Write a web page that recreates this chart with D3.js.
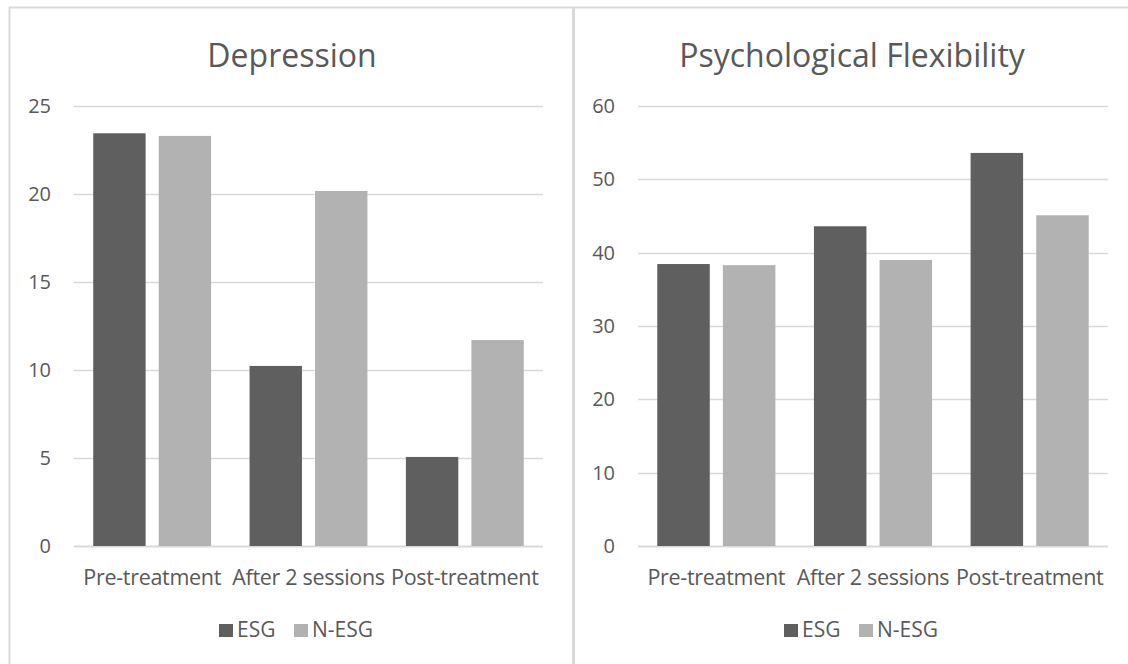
<!DOCTYPE html>
<html><head><meta charset="utf-8">
<script src="https://cdn.jsdelivr.net/npm/d3@7"></script>
<style>
html,body{margin:0;padding:0;background:#fff;}
svg{display:block;font-family:"Open Sans",sans-serif;}
</style></head>
<body>
<svg id="chart" width="1128" height="664"></svg>
<script>
const categories = ["Pre-treatment", "After 2 sessions", "Post-treatment"];
const seriesNames = ["ESG", "N-ESG"];
const seriesColors = ["#5f5f5f", "#b2b2b2"];
const depressionESG = [23.45, 10.23, 5.06];
const depressionNESG = [23.3, 20.17, 11.7];
const flexibilityESG = [38.45, 43.6, 53.6];
const flexibilityNESG = [38.3, 39.0, 45.1];
const depressionTicks = [0, 5, 10, 15, 20, 25];
const flexibilityTicks = [0, 10, 20, 30, 40, 50, 60];

const svg = d3.select("#chart");
const textColor = "#595959", gridColor = "#d9d9d9";

// panel borders
svg.append("line").attr("x1", 9.5).attr("x2", 9.5).attr("y1", 7).attr("y2", 664).attr("stroke", gridColor).attr("stroke-width", 2);
svg.append("line").attr("x1", 9).attr("x2", 1128).attr("y1", 7.5).attr("y2", 7.5).attr("stroke", gridColor).attr("stroke-width", 2);
svg.append("line").attr("x1", 573.5).attr("x2", 573.5).attr("y1", 7).attr("y2", 664).attr("stroke", gridColor).attr("stroke-width", 3);

function panel(opt) {
  const g = svg.append("g");
  const x = d3.scaleBand().domain(categories).range([opt.x0, opt.x1]).paddingInner(0).paddingOuter(0);
  const outer = x.bandwidth() * 0.123;
  const xs = d3.scaleBand().domain(seriesNames).range([outer, x.bandwidth() - outer]).paddingInner(0.2).paddingOuter(0);
  const y = d3.scaleLinear().domain([0, opt.max]).range([546, 106]);

  // gridlines
  g.selectAll("line.grid").data(opt.ticks).join("line")
    .attr("x1", opt.x0).attr("x2", opt.x1)
    .attr("y1", d => Math.round(y(d)) + 0.5).attr("y2", d => Math.round(y(d)) + 0.5)
    .attr("stroke", gridColor).attr("stroke-width", d => d === 0 ? 2 : 1.5);

  // y labels
  g.selectAll("text.ytick").data(opt.ticks).join("text")
    .attr("x", opt.x0 - 23).attr("y", d => y(d) + 7)
    .attr("text-anchor", "end").attr("fill", textColor).attr("font-size", 20)
    .text(d => d);

  // bars
  const series = [opt.s1, opt.s2];
  const cat = g.selectAll("g.cat").data(categories).join("g")
    .attr("transform", d => `translate(${x(d)},0)`);
  cat.selectAll("rect").data((d, i) => seriesNames.map((s, j) => ({ s, j, v: series[j][i] }))).join("rect")
    .attr("x", d => xs(d.s)).attr("width", xs.bandwidth())
    .attr("y", d => y(d.v)).attr("height", d => y(0) - y(d.v))
    .attr("fill", d => seriesColors[d.j]);

  // category labels
  g.selectAll("text.cat").data(categories).join("text")
    .attr("x", d => x(d) + x.bandwidth() / 2).attr("y", 585)
    .attr("text-anchor", "middle").attr("fill", textColor).attr("font-size", 21.5)
    .attr("letter-spacing", -0.3)
    .text(d => d);

  // title
  g.append("text").attr("x", opt.titleX).attr("y", 67).attr("text-anchor", "middle")
    .attr("fill", textColor).attr("font-size", 32).text(opt.title);

  // legend
  const lg = g.append("g").attr("transform", `translate(${opt.legendX},0)`);
  const offs = [0, 75];
  seriesNames.forEach((s, j) => {
    lg.append("rect").attr("x", offs[j]).attr("y", 624).attr("width", 14).attr("height", 13).attr("fill", seriesColors[j]);
    lg.append("text").attr("x", offs[j] + 18).attr("y", 637).attr("fill", textColor).attr("font-size", 21).text(s);
  });
}

panel({ x0: 74, x1: 543, max: 25, ticks: depressionTicks, s1: depressionESG, s2: depressionNESG, title: "Depression", titleX: 292, legendX: 219 });
panel({ x0: 638, x1: 1108, max: 60, ticks: flexibilityTicks, s1: flexibilityESG, s2: flexibilityNESG, title: "Psychological Flexibility", titleX: 852, legendX: 784 });
</script>
</body></html>
